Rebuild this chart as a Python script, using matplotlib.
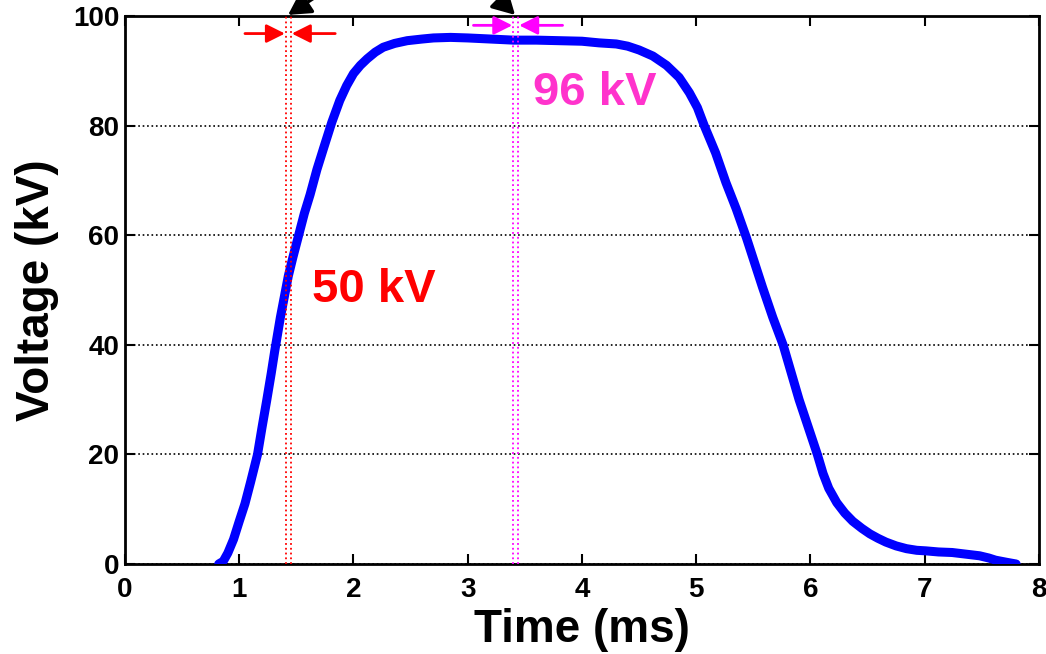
import matplotlib.pyplot as plt
import matplotlib.ticker as ticker

plt.rcParams['font.family'] = ['Liberation Sans', 'DejaVu Sans']
plt.rcParams['font.weight'] = 'bold'

# pulse waveform, time in ms, voltage in kV
time_ms = [0.82, 0.86, 0.90, 0.95, 1.00, 1.05, 1.10, 1.16, 1.20, 1.24, 1.28,
           1.31, 1.36, 1.43, 1.47, 1.52, 1.57, 1.62, 1.68, 1.74, 1.81, 1.88,
           1.94, 2.00, 2.06, 2.12, 2.19, 2.26, 2.36, 2.47, 2.60, 2.70, 2.85,
           3.00, 3.20, 3.40, 3.60, 3.80, 4.00, 4.15, 4.30, 4.40, 4.50, 4.62,
           4.74, 4.85, 4.94, 5.01, 5.07, 5.17, 5.26, 5.35, 5.44, 5.51, 5.58,
           5.67, 5.76, 5.83, 5.90, 5.98, 6.06, 6.11, 6.16, 6.23, 6.30, 6.37,
           6.45, 6.52, 6.59, 6.66, 6.75, 6.84, 6.93, 7.01, 7.12, 7.24, 7.36,
           7.48, 7.56, 7.62, 7.72, 7.80]
voltage_kv = [0.0, 0.5, 2.0, 4.5, 7.8, 11.0, 15.0, 20.0, 25.0, 29.8, 34.8,
              38.8, 45.0, 52.6, 56.0, 60.0, 64.0, 67.4, 72.0, 76.0, 80.6, 84.6,
              87.3, 89.5, 91.0, 92.2, 93.4, 94.3, 95.0, 95.5, 95.8, 96.0, 96.1,
              96.0, 95.8, 95.6, 95.6, 95.5, 95.4, 95.1, 94.9, 94.5, 93.8, 92.7,
              91.0, 88.8, 86.0, 83.3, 80.0, 75.0, 69.6, 64.8, 59.5, 55.0, 50.5,
              45.0, 40.0, 35.0, 30.0, 25.0, 20.0, 16.5, 13.8, 11.2, 9.3, 7.8,
              6.5, 5.5, 4.7, 4.0, 3.3, 2.8, 2.5, 2.4, 2.2, 2.1, 1.8,
              1.5, 1.1, 0.7, 0.3, 0.0]

# cursor pairs
cursor_50 = [1.41, 1.45]
cursor_96 = [3.40, 3.44]
red = '#FF0000'
magenta = '#FF00FF'

fig = plt.figure(figsize=(10.46, 6.54), dpi=100)
ax = fig.add_axes([0.1195, 0.1376, 0.8738, 0.8379])

ax.plot(time_ms, voltage_kv, color='#0000FF', linewidth=6.5, solid_capstyle='round',
	solid_joinstyle='round', zorder=3)

for x in cursor_50:
	ax.axvline(x, color=red, linestyle=':', linewidth=1.3, zorder=4)
for x in cursor_96:
	ax.axvline(x, color=magenta, linestyle=':', linewidth=1.3, zorder=4)

arrow_kw = dict(arrowstyle='-|>', lw=2, mutation_scale=28, shrinkA=0, shrinkB=0)

# arrows pointing at the cursors
def pointer(x_from, x_to, y, color):
	ax.annotate('', xy=(x_to, y), xytext=(x_from, y), arrowprops=dict(color=color, **arrow_kw))

pointer(1.05, 1.40, 96.8, red)
pointer(1.84, 1.46, 96.8, red)
pointer(3.05, 3.39, 98.3, magenta)
pointer(3.83, 3.45, 98.3, magenta)

top_kw = dict(arrowstyle='-|>,head_length=0.45,head_width=0.25', lw=2.5, mutation_scale=30,
	shrinkA=0, shrinkB=0, color='black')
ax.annotate('', xy=(1.427, 100.2), xytext=(1.72, 104.2), annotation_clip=False, arrowprops=top_kw)
ax.annotate('', xy=(3.414, 100.2), xytext=(3.22, 104.2), annotation_clip=False, arrowprops=top_kw)

ax.text(1.64, 50, '50 kV', color=red, fontsize=34, fontweight='bold', va='center', ha='left')
ax.text(3.57, 86, '96 kV', color='#FF33CC', fontsize=34, fontweight='bold', va='center', ha='left')

ax.set_xlim(0, 8)
ax.set_ylim(0, 100)
ax.xaxis.set_major_locator(ticker.MultipleLocator(1))
ax.yaxis.set_major_locator(ticker.MultipleLocator(20))
ax.tick_params(direction='in', length=7, width=1.5, top=True, right=True, labelsize=20)
ax.tick_params(axis='x', pad=9)
ax.tick_params(axis='y', pad=4)
for lbl in ax.get_xticklabels() + ax.get_yticklabels():
	lbl.set_fontweight('bold')
ax.grid(axis='y', color='black', linestyle=':', linewidth=1.2)
for s in ax.spines.values():
	s.set_linewidth(2)

ax.set_xlabel('Time (ms)', fontsize=33, fontweight='bold', labelpad=4)
ax.set_ylabel('Voltage (kV)', fontsize=33, fontweight='bold', labelpad=10)

fig.savefig('out.png', dpi=100)
